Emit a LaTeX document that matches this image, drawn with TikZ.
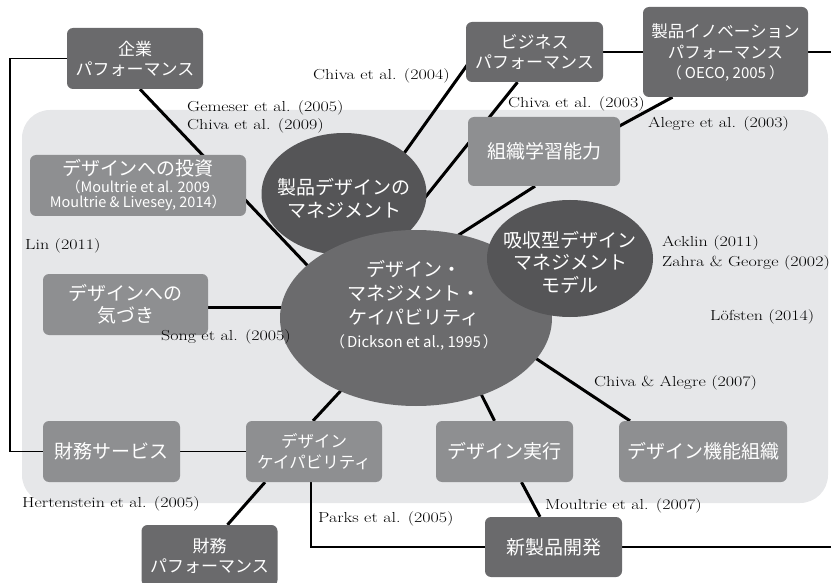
\documentclass[tikz,border=0pt]{standalone}
\usepackage{fontspec}
\newfontfamily\jp{Noto Sans CJK JP}
\newfontfamily\labfont[FakeStretch=1.24]{Latin Modern Roman}
\usetikzlibrary{shapes.geometric,calc}
\pgfdeclarelayer{panel}
\pgfdeclarelayer{bg}
\pgfsetlayers{panel,bg,main}
\definecolor{darkbox}{HTML}{6A6A6C}
\definecolor{midbox}{HTML}{8E8F91}
\definecolor{darkell}{HTML}{555557}
\definecolor{centell}{HTML}{6B6B6D}
\definecolor{panelc}{HTML}{E6E7E9}
\tikzset{
  box/.style={rounded corners=6pt, inner sep=0pt, text=white, align=center, font=\jp\fontsize{17}{20}\selectfont},
  dbox/.style={box, fill=darkbox},
  mbox/.style={box, fill=midbox},
  big/.style={font=\jp\fontsize{19}{23}\selectfont},
  ell/.style={ellipse, inner sep=0pt},
  etext/.style={text=white, align=center, inner sep=0pt, font=\jp\fontsize{19}{23}\selectfont},
  thickl/.style={line width=3pt, black},
  thinl/.style={line width=1.5pt, black},
  lab/.style={inner sep=0pt, font=\labfont\fontsize{14.5}{17}\selectfont, anchor=west},
}
\begin{document}
\begin{tikzpicture}[x=1pt,y=-1pt]
\useasboundingbox (0,0) rectangle (831,583);
% boxes
\node[dbox, minimum width=136, minimum height=61] (kigyo) at (135,58.5) {企業\\パフォーマンス};
\node[dbox, minimum width=137, minimum height=60] (biz) at (534.5,52) {ビジネス\\パフォーマンス};
\node[dbox, minimum width=165, minimum height=90, font=\jp\fontsize{16.5}{21}\selectfont] (inno) at (725.5,52) {製品イノベーション\\パフォーマンス\\[-1pt]{\fontsize{15}{17}\selectfont（\hspace{3pt}OECO, 2005\hspace{3pt}）}};
\node[mbox, big, minimum width=152, minimum height=69] (org) at (544,151.5) {組織学習能力};
\node[mbox, minimum width=216, minimum height=61, font=\jp\fontsize{19}{15}\selectfont] (inv) at (138,185.5) {デザインへの投資\\[2pt]{\fontsize{14.5}{15}\selectfont（Moultrie et al. 2009}\\{\fontsize{14.5}{15}\selectfont Moultrie \& Livesey, 2014）}};
\node[mbox, big, minimum width=165, minimum height=61, font=\jp\fontsize{19}{22}\selectfont] (awr) at (125.5,304.5) {デザインへの\\気づき};
\node[mbox, big, minimum width=137, minimum height=61] (fserv) at (111.5,451.5) {財務サービス};
\node[mbox, minimum width=136, minimum height=61, font=\jp\fontsize{16.5}{21}\selectfont] (dcap) at (314,451.5) {デザイン\\ケイパビリティ};
\node[mbox, big, minimum width=137, minimum height=61] (exec) at (504.5,451.5) {デザイン実行};
\node[mbox, big, minimum width=168, minimum height=61] (func) at (703,451.5) {デザイン機能組織};
\node[dbox, minimum width=136, minimum height=61] (fperf) at (209.5,555.5) {財務\\パフォーマンス};
\node[dbox, big, minimum width=137, minimum height=60] (npd) at (553.5,547) {新製品開発};
% ellipses
\node[ell, fill=darkell, minimum width=165, minimum height=122] (pdm) at (344,194) {};
\node[etext] (pdmt) at (344,198) {製品デザインの\\マネジメント};
\node[ell, fill=centell, minimum width=272, minimum height=176] (cent) at (416,318) {};
\node[etext, font=\jp\fontsize{19}{24.3}\selectfont] (centt) at (414,305) {デザイン・\\マネジメント・\\ケイパビリティ\\[-2pt]{\fontsize{15}{17}\selectfont（\hspace{2pt}Dickson et al., 1995\hspace{2pt}）}};
\node[ell, fill=darkell, minimum width=166, minimum height=117] (abs) at (570,258.5) {};
\node[etext, font=\jp\fontsize{19}{22.5}\selectfont] (abst) at (570,262) {吸収型デザイン\\マネジメント\\モデル};
% free ends
\coordinate (rightA) at (831,52);
\coordinate (rightB) at (831,547);
% panel
\begin{pgfonlayer}{panel}
\fill[panelc, rounded corners=28pt] (22,110) rectangle (828,503);
\end{pgfonlayer}
% connectors
\begin{pgfonlayer}{bg}
\draw[thickl] ($(kigyo.south)+(5,0)$) -- ($(cent.center)+(-90,-33)$);
\draw[thickl] ($(biz.center)+(-58,0)$) -- ($(pdm.center)+(41,-14)$);
\draw[thickl] ($(biz.south)+(-17,0)$) -- ($(pdm.center)+(71,16)$);
\draw[thickl] ($(org.south)+(-9,0)$) -- ($(cent.center)+(16,-66)$);
\draw[thickl] ($(inno.south)+(-53,0)$) -- ($(org.east)+(-20,-15)$);
\draw[thickl] ($(awr.east)+(0,2.5)$) -- ($(cent.west)+(2,-11)$);
\draw[thickl] ($(dcap.north)+(-1,0)$) -- ($(cent.center)+(-56,52)$);
\draw[thickl] ($(dcap.south)+(-49,0)$) -- ($(fperf.north)+(18,0)$);
\draw[thickl] ($(exec.north)+(-10,0)$) -- ($(cent.center)+(48,42)$);
\draw[thickl] ($(func.north)+(-73,0)$) -- ($(cent.center)+(89,20)$);
\draw[thickl] ($(exec.south)+(17,0)$) -- ($(npd.north)+(-13.5,0)$);
\draw[thinl] (kigyo.west) -- ++(-57,0) |- (fserv.west);
\draw[thinl] (fserv.east) -- (dcap.west);
\draw[thinl] ($(dcap.south)+(-3,0)$) |- (npd.west);
\draw[thinl] (npd.east) -- (rightB);
\draw[thinl] (biz.east) -- (inno.west);
\draw[thinl] (inno.east) -- (rightA);
\end{pgfonlayer}
% labels
\node[lab] (l1) at (313,76) {Chiva et al. (2004)};
\node[lab] (l2) at (187,108) {Gemeser et al. (2005)};
\node[lab] (l3) at (187,126) {Chiva et al. (2009)};
\node[lab] (l4) at (508,104) {Chiva et al. (2003)};
\node[lab] (l5) at (648,124) {Alegre et al. (2003)};
\node[lab] (l6) at (25,246) {Lin (2011)};
\node[lab] (l7) at (662,243) {Acklin (2011)};
\node[lab] (l8) at (662,263) {Zahra \& George (2002)};
\node[lab] (l9) at (710,317) {Löfsten (2014)};
\node[lab] (l10) at (161,337) {Song et al. (2005)};
\node[lab] (l11) at (594,383) {Chiva \& Alegre (2007)};
\node[lab] (l12) at (22,504) {Hertenstein et al. (2005)};
\node[lab] (l13) at (318,519) {Parks et al. (2005)};
\node[lab] (l14) at (545,506) {Moultrie et al. (2007)};
\end{tikzpicture}
\end{document}
